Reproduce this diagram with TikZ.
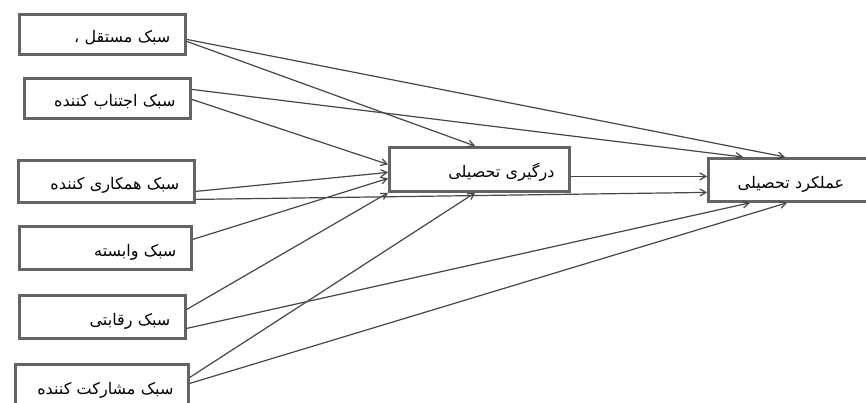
\documentclass[tikz,border=0pt]{standalone}
\usepackage{fontspec}
\newfontfamily\arabicfont[Script=Arabic]{DejaVu Sans}
\TeXXeTstate=1
\usetikzlibrary{arrows.meta}
\definecolor{linegray}{RGB}{70,70,70}
\definecolor{boxgray}{RGB}{100,100,100}
\begin{document}
\begin{tikzpicture}[x=1pt,y=-1pt,
  box/.style={draw=boxgray, line width=2.8pt, fill=white, inner xsep=15pt, inner ysep=0pt,
    text height=17pt, text depth=0pt,
    align=right, anchor=north west, font=\arabicfont\fontsize{16}{18}\selectfont},
  conn/.style={draw=linegray, line width=1.2pt, -{Straight Barb[length=6pt,width=7pt]}}]
\clip (0,0) rectangle (866,403);
\fill[white] (0,0) rectangle (866,403);
% left boxes
\node[box, text width=136pt, minimum height=40pt] (b1) at (18,13) {\beginR سبک مستقل ،\endR};
\node[box, text width=136pt, minimum height=40pt] (b2) at (23,77) {\beginR سبک اجتناب کننده\endR};
\node[box, text width=146pt, minimum height=42pt] (b3) at (17,159) {\beginR سبک همکاری کننده\endR};
\node[box, text width=142pt, minimum height=43pt] (b4) at (18,225) {\beginR سبک وابسته\endR};
\node[box, text width=136pt, minimum height=43pt] (b5) at (18,294) {\beginR سبک رقابتی\endR};
\node[box, text width=143pt, minimum height=43pt] (b6) at (14,363) {\beginR سبک مشارکت کننده\endR};
% middle and right boxes
\node[box, text width=150pt, minimum height=44pt] (m) at (388,146) {\beginR درگیری تحصیلی\endR};
\node[box, text width=135pt, minimum height=43pt, align=center] (r) at (707,157) {\beginR عملکرد تحصیلی\endR};
% connectors
\draw[conn] ([yshift=-5pt]b1.east) -- ([xshift=78pt]r.north west);
\draw[conn] ([yshift=-7pt]b1.east) -- ([xshift=87pt]m.north west);
\draw[conn] ([yshift=9pt]b2.east) -- ([xshift=36pt]r.north west);
\draw[conn] ([yshift=-1pt]b2.east) -- ([yshift=5pt]m.west);
\draw[conn] ([yshift=-10pt]b3.east) -- ([yshift=-3pt]m.west);
\draw[conn] ([yshift=-18pt]b3.east) -- ([yshift=-12.5pt]r.west);
\draw[conn] ([yshift=8.5pt]b4.east) -- ([yshift=-9pt]m.west);
\draw[conn] ([yshift=7.5pt]b5.east) -- (m.south west);
\draw[conn] ([yshift=-11.5pt]b5.east) -- ([xshift=43pt]r.south west);
\draw[conn] ([yshift=8.5pt]b6.east) -- ([xshift=87pt]m.south west);
\draw[conn] ([yshift=2.5pt]b6.east) -- ([xshift=80pt]r.south west);
\draw[conn] ([yshift=-7pt]m.east) -- ([yshift=3.5pt]r.west);
\end{tikzpicture}
\end{document}
